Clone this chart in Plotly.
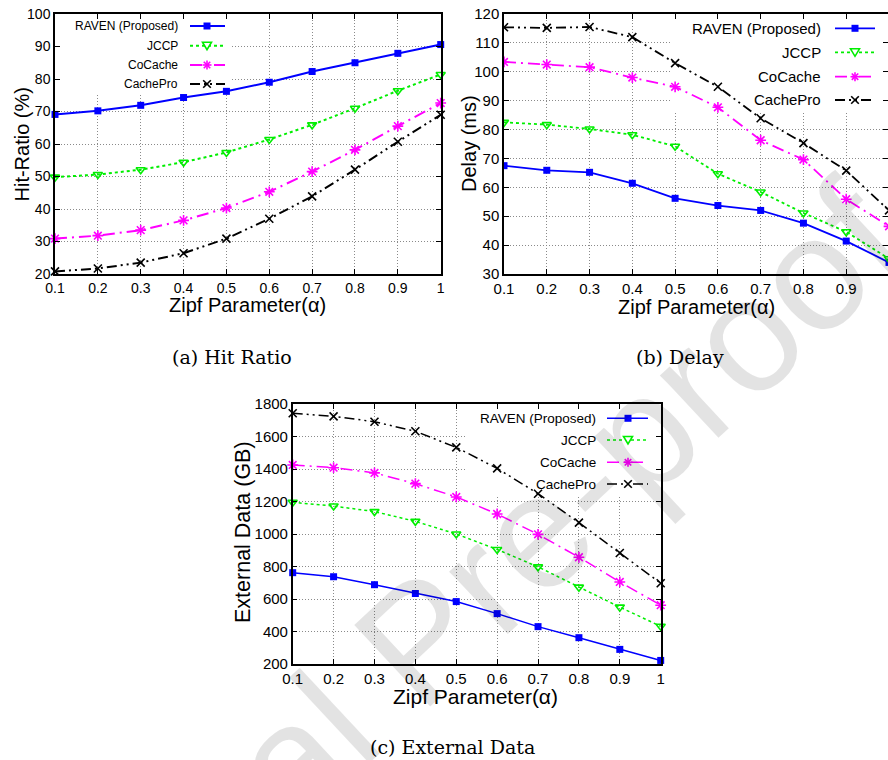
import plotly.graph_objects as go

# ---------------- data ----------------
ALPHA = [0.1, 0.2, 0.3, 0.4, 0.5, 0.6, 0.7, 0.8, 0.9, 1.0]
X_TICK_LABELS = ["0.1", "0.2", "0.3", "0.4", "0.5", "0.6", "0.7", "0.8", "0.9", "1"]
SERIES = ["RAVEN (Proposed)", "JCCP", "CoCache", "CachePro"]

HIT_RAVEN = [69.1, 70.2, 71.9, 74.3, 76.2, 79.0, 82.3, 85.0, 87.9, 90.6]
HIT_JCCP = [49.8, 50.6, 52.1, 54.4, 57.4, 61.4, 65.9, 71.0, 76.4, 81.4]
HIT_COCACHE = [30.9, 31.8, 33.5, 36.5, 40.3, 45.3, 51.5, 58.2, 65.5, 72.6]
HIT_CACHEPRO = [20.8, 21.7, 23.5, 26.4, 30.9, 37.0, 43.9, 52.1, 60.7, 69.0]

DELAY_RAVEN = [67.5, 65.9, 65.2, 61.4, 56.2, 53.7, 52.0, 47.6, 41.4, 34.0]
DELAY_JCCP = [82.5, 81.7, 80.2, 78.2, 74.2, 64.7, 58.4, 51.1, 44.6, 35.3]
DELAY_COCACHE = [103.4, 102.5, 101.6, 98.0, 94.8, 87.7, 76.3, 69.6, 55.9, 46.5]
DELAY_CACHEPRO = [115.4, 115.2, 115.5, 112.0, 103.0, 94.8, 83.9, 75.3, 65.8, 52.0]

EXT_RAVEN = [762, 737, 688, 634, 584, 510, 430, 362, 290, 222]
EXT_JCCP = [1195, 1172, 1138, 1078, 1000, 905, 798, 673, 550, 432]
EXT_COCACHE = [1425, 1408, 1376, 1310, 1228, 1123, 998, 857, 705, 562]
EXT_CACHEPRO = [1743, 1724, 1691, 1632, 1533, 1404, 1248, 1070, 883, 697]

HIT_TICKS = [20, 30, 40, 50, 60, 70, 80, 90, 100]
DELAY_TICKS = [30, 40, 50, 60, 70, 80, 90, 100, 110, 120]
EXT_TICKS = [200, 400, 600, 800, 1000, 1200, 1400, 1600, 1800]

# ---------------- layout helpers ----------------
W, H = 888, 760
SANS = "Liberation Sans, Arial, Helvetica, sans-serif"
SERIF = "DejaVu Serif, serif"


def px(x):
    return x / W


def py(y):
    return 1 - y / H


STYLES = [
    dict(color="#0000ff", dash="solid", symbol="square", msize=7, mlw=0, kind="square"),
    dict(color="#00ee00", dash="3px,3px", symbol="triangle-down-open", msize=8, mlw=1.6, kind="tri"),
    dict(color="#ff00ff", dash="12px,5px,2px,5px", symbol="asterisk-open", msize=9, mlw=1.6, kind="star"),
    dict(color="#000000", dash="10px,4px,2px,4px,2px,4px", symbol="x-thin-open", msize=8, mlw=1.6, kind="x"),
]

PANELS = [
    dict(ax="", data=[HIT_RAVEN, HIT_JCCP, HIT_COCACHE, HIT_CACHEPRO], ticks=HIT_TICKS,
         left=55, right=440.7, top=14, bottom=274, xmax=1.0, tickfont=14, lw=2.0, clip=False,
         ytitle="Hit-Ratio (%)", ytpos=(21.5, 145), ytsize=20, xtpos=(247, 305), xtsize=20,
         caption="(a)\u00a0Hit\u00a0Ratio", cappos=(232, 357),
         leg=dict(tr=180, s0=190, s1=225, m=207, rows=[26, 45.7, 65, 84], fs=12),
         box=(55, 230, 14, 93)),
    dict(ax="2", data=[DELAY_RAVEN, DELAY_JCCP, DELAY_COCACHE, DELAY_CACHEPRO], ticks=DELAY_TICKS,
         left=504, right=888, top=14, bottom=274, xmax=0.1 + 0.9 * 384 / 385, tickfont=15, lw=1.8, clip=True,
         ytitle="Delay (ms)", ytpos=(469, 144), ytsize=20, xtpos=(696, 307), xtsize=20,
         caption="(b)\u00a0Delay", cappos=(680, 357),
         leg=dict(tr=823, s0=835, s1=875, m=855, rows=[28.3, 52.3, 76.7, 100], fs=15),
         box=(671, 888, 14, 112)),
    dict(ax="3", data=[EXT_RAVEN, EXT_JCCP, EXT_COCACHE, EXT_CACHEPRO], ticks=EXT_TICKS,
         left=292.7, right=660.7, top=404, bottom=664, xmax=1.0, tickfont=15, lw=1.5, clip=False,
         ytitle="External Data (GB)", ytpos=(243, 532), ytsize=21.5, xtpos=(476, 696), xtsize=21,
         caption="(c)\u00a0External\u00a0Data", cappos=(452, 747),
         leg=dict(tr=598, s0=607, s1=648, m=628, rows=[418.3, 440, 462.3, 484], fs=13.5),
         box=(466, 660.7, 404, 497)),
]

fig = go.Figure()
shapes = []
annotations = []
layout_axes = {}

for p in PANELS:
    xa = "x" + p["ax"]
    ya = "y" + p["ax"]
    for name, vals, st in zip(SERIES, p["data"], STYLES):
        fig.add_trace(go.Scatter(
            x=ALPHA, y=vals, name=name, mode="lines+markers", showlegend=False,
            xaxis=xa, yaxis=ya, cliponaxis=p["clip"],
            line=dict(color=st["color"], width=p["lw"], dash=st["dash"]),
            marker=dict(symbol=st["symbol"], size=st["msize"], color=st["color"],
                        line=dict(color=st["color"], width=st["mlw"])),
        ))
    ticks = p["ticks"]
    axis_common = dict(
        showline=True, linecolor="black", linewidth=1.5, mirror="ticks",
        ticks="inside", ticklen=5, tickwidth=1, tickcolor="black",
        showgrid=True, gridcolor="#8a8a8a", gridwidth=1, griddash="1px,2px",
        zeroline=False, automargin=False,
        tickfont=dict(family=SANS, size=p["tickfont"], color="black"),
    )
    layout_axes["xaxis" + p["ax"]] = dict(
        axis_common, domain=[px(p["left"]), min(1.0, px(p["right"]))],
        range=[0.1, p["xmax"]], tickvals=ALPHA, ticktext=X_TICK_LABELS,
        anchor=ya,
    )
    layout_axes["yaxis" + p["ax"]] = dict(
        axis_common, domain=[py(p["bottom"]), py(p["top"])],
        range=[ticks[0], ticks[-1]], tickvals=ticks, ticktext=[str(t) for t in ticks],
        anchor=xa,
    )
    # legend white box (hides grid, drawn under traces)
    bx0, bx1, by0, by1 = p["box"]
    wpx = p["right"] - p["left"]
    hpx = p["bottom"] - p["top"]
    xlo, xhi = 0.1, p["xmax"]
    ylo, yhi = ticks[0], ticks[-1]
    shapes.append(dict(
        type="rect", xref=xa, yref=ya, layer="between",
        x0=xlo + (bx0 - p["left"]) / wpx * (xhi - xlo),
        x1=xlo + min(1.0, (bx1 - p["left"]) / wpx) * (xhi - xlo),
        y0=yhi - (by1 - p["top"]) / hpx * (yhi - ylo), y1=yhi,
        fillcolor="white", line=dict(width=0),
    ))
    annotations.append(dict(text=p["ytitle"], x=px(p["ytpos"][0]), y=py(p["ytpos"][1]),
                            xref="paper", yref="paper", showarrow=False, textangle=-90,
                            xanchor="center", yanchor="middle",
                            font=dict(family=SANS, size=p["ytsize"], color="black")))
    annotations.append(dict(text="Zipf Parameter(\u03b1)", x=px(p["xtpos"][0]), y=py(p["xtpos"][1]),
                            xref="paper", yref="paper", showarrow=False,
                            xanchor="center", yanchor="middle",
                            font=dict(family=SANS, size=p["xtsize"], color="black")))
    annotations.append(dict(text=p["caption"], x=px(p["cappos"][0]), y=py(p["cappos"][1]),
                            xref="paper", yref="paper", showarrow=False,
                            xanchor="center", yanchor="middle",
                            font=dict(family=SERIF, size=19, color="black")))
    lg = p["leg"]
    for name, st, ry in zip(SERIES, STYLES, lg["rows"]):
        annotations.append(dict(text=name, x=px(lg["tr"]), y=py(ry), xref="paper", yref="paper",
                                showarrow=False, xanchor="right", yanchor="middle",
                                font=dict(family=SANS, size=lg["fs"], color="black")))
        shapes.append(dict(type="line", xref="paper", yref="paper", layer="above",
                           x0=px(lg["s0"]), x1=px(lg["s1"]), y0=py(ry), y1=py(ry),
                           line=dict(color=st["color"], width=p["lw"], dash=st["dash"])))
        mx, my = lg["m"], ry
        if st["kind"] == "square":
            shapes.append(dict(type="rect", xref="paper", yref="paper", layer="above",
                               x0=px(mx - 3.5), x1=px(mx + 3.5), y0=py(my + 3.5), y1=py(my - 3.5),
                               fillcolor=st["color"], line=dict(width=0)))
        elif st["kind"] == "tri":
            path = "M {},{} L {},{} L {},{} Z".format(
                px(mx - 4.5), py(my - 3.5), px(mx + 4.5), py(my - 3.5), px(mx), py(my + 4))
            shapes.append(dict(type="path", xref="paper", yref="paper", layer="above", path=path,
                               fillcolor="white", line=dict(color=st["color"], width=1.6)))
        elif st["kind"] == "star":
            r = 4.5
            d = r * 0.72
            for (dx0, dy0, dx1, dy1) in [(-r, 0, r, 0), (0, -r, 0, r), (-d, -d, d, d), (-d, d, d, -d)]:
                shapes.append(dict(type="line", xref="paper", yref="paper", layer="above",
                                   x0=px(mx + dx0), y0=py(my + dy0), x1=px(mx + dx1), y1=py(my + dy1),
                                   line=dict(color=st["color"], width=1.6)))
        else:
            d = 3.8
            for (dx0, dy0, dx1, dy1) in [(-d, -d, d, d), (-d, d, d, -d)]:
                shapes.append(dict(type="line", xref="paper", yref="paper", layer="above",
                                   x0=px(mx + dx0), y0=py(my + dy0), x1=px(mx + dx1), y1=py(my + dy1),
                                   line=dict(color=st["color"], width=1.6)))

# watermark
annotations.append(dict(text="Journal Pre-proof", x=px(418), y=py(640), xref="paper", yref="paper",
                        showarrow=False, textangle=-43, xanchor="center", yanchor="middle",
                        font=dict(family=SANS, size=162, color="rgba(0,0,0,0.11)")))

fig.update_layout(
    width=W, height=H, margin=dict(l=0, r=0, t=0, b=0, pad=0, autoexpand=False),
    paper_bgcolor="white", plot_bgcolor="white",
    showlegend=False, shapes=shapes, annotations=annotations,
    **layout_axes,
)

fig.write_html("out.html")
